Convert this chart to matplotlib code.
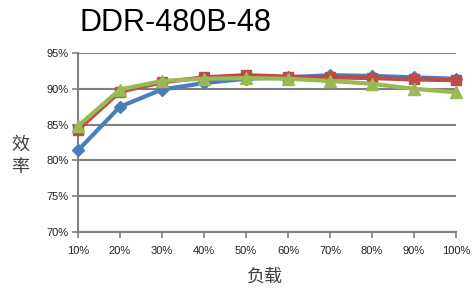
import matplotlib
matplotlib.use("Agg")
import matplotlib.pyplot as plt
from matplotlib.ticker import FuncFormatter

load = [10, 20, 30, 40, 50, 60, 70, 80, 90, 100]
eff_blue = [81.4, 87.5, 89.9, 90.8, 91.4, 91.6, 91.9, 91.8, 91.6, 91.4]
eff_red = [84.3, 89.6, 90.9, 91.6, 91.9, 91.7, 91.6, 91.5, 91.3, 91.2]
eff_green = [84.8, 89.9, 91.1, 91.4, 91.5, 91.4, 91.1, 90.7, 90.0, 89.5]

title = "DDR-480B-48"
xlabel = "负载"
ylabel = "效率"

plt.rcParams['font.family'] = ['Liberation Sans', 'DejaVu Sans']

fig = plt.figure(figsize=(4.74, 2.93), dpi=100)
ax = fig.add_axes([78/474, 1 - 232/293, (456 - 78)/474, (232 - 53)/293])

grid_col = "#808080"
ax.plot(load, eff_blue, color="#4a7ebb", lw=3, marker="D", ms=6, zorder=3)
ax.plot(load, eff_red, color="#be4b48", lw=3, marker="s", ms=7, zorder=4)
ax.plot(load, eff_green, color="#98b954", lw=3, marker="^", ms=8, zorder=5)

ax.set_xlim(10, 100)
ax.set_ylim(70, 95)
ax.set_xticks(load)
ax.set_yticks([70, 75, 80, 85, 90, 95])
ax.xaxis.set_major_formatter(FuncFormatter(lambda v, p: f"{v:.0f}%"))
ax.yaxis.set_major_formatter(FuncFormatter(lambda v, p: f"{v:.0f}%"))
ax.grid(axis="y", color=grid_col, lw=1.5)
ax.set_axisbelow(True)
for s in ["top", "right"]:
    ax.spines[s].set_visible(False)
for s in ["left", "bottom"]:
    ax.spines[s].set_color(grid_col)
    ax.spines[s].set_linewidth(1.5)
ax.tick_params(colors=grid_col, width=1.2, length=4, labelsize=8, labelcolor="#222222")
ax.tick_params(axis="x", pad=6)
ax.tick_params(axis="y", pad=3)
for line in ax.lines:
    line.set_clip_on(False)

fig.text(80/474, 1 - 23/293, title, fontsize=22, va="center", ha="left",
         family=["Liberation Sans"])
fig.text(265/474, 1 - 277/293, xlabel, fontsize=13, ha="center", va="center",
         color="#404040", family=["Noto Sans CJK SC"], fontweight="light")
fig.text(20/474, 1 - 156/293, "\n".join(ylabel), fontsize=13, ha="center", va="center",
         color="#404040", family=["Noto Sans CJK SC"], fontweight="light", linespacing=1.35)

fig.savefig("out.png", dpi=100)
